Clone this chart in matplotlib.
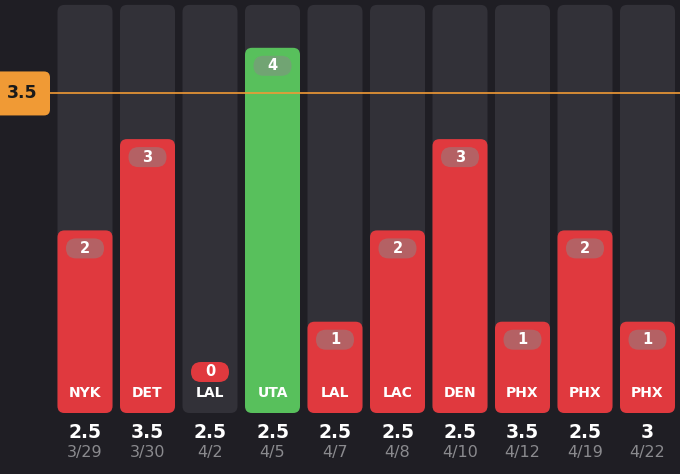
import matplotlib
matplotlib.use("Agg")
import matplotlib.pyplot as plt
from matplotlib.patches import FancyBboxPatch

# data
teams = ['NYK', 'DET', 'LAL', 'UTA', 'LAL', 'LAC', 'DEN', 'PHX', 'PHX', 'PHX']
values = [2, 3, 0, 4, 1, 2, 3, 1, 2, 1]
lines = ['2.5', '3.5', '2.5', '2.5', '2.5', '2.5', '2.5', '3.5', '2.5', '3']
dates = ['3/29', '3/30', '4/2', '4/5', '4/7', '4/8', '4/10', '4/12', '4/19', '4/22']
ref_line = 3.5
track_max = 4.47

BG = '#1f1e24'
TRACK = '#323138'
RED = '#e0393e'
GREEN = '#58c05c'
ORANGE = '#f09a35'

# pixel scale: 62.5 px per bar slot, 91.3 px per unit
XPX, YPX = 62.5, 91.3
asp = XPX / YPX

fig = plt.figure(figsize=(6.8, 4.74), dpi=100)
fig.patch.set_facecolor(BG)
ax = fig.add_axes([0, 0, 1, 1])
ax.set_facecolor(BG)
ax.set_xlim(-85 / XPX, (680 - 85) / XPX)
ax.set_ylim((413 - 474) / YPX, 413 / YPX)
ax.axis('off')

w = 55 / XPX
r = 7 / XPX


def rbox(x0, y0, wd, ht, color, rad, z, alpha=1.0):
    p = FancyBboxPatch((x0, y0), wd, ht,
                       boxstyle='round,pad=0,rounding_size=%f' % rad,
                       mutation_aspect=asp, fc=color, ec='none',
                       alpha=alpha, zorder=z)
    ax.add_patch(p)


pw = 38 / XPX
ph = 20 / YPX
for i, v in enumerate(values):
    rbox(i - w / 2, 0, w, track_max, TRACK, r, 1)
    if v > 0:
        c = GREEN if v > ref_line else RED
        rbox(i - w / 2, 0, w, v, c, r, 2)
        py = v - 18 / YPX
        rbox(i - pw / 2, py - ph / 2, pw, ph, '#8a8a8a', 10 / XPX, 3, alpha=0.5)
    else:
        py = 41 / YPX
        rbox(i - pw / 2, py - ph / 2, pw, ph, RED, 10 / XPX, 3)
    ax.text(i, py, str(v), color='white', fontsize=10.5, fontweight='bold',
            ha='center', va='center', zorder=4)
    ax.text(i, 20 / YPX, teams[i], color='white', fontsize=10, fontweight='bold',
            ha='center', va='center', zorder=4)
    ax.text(i, -19 / YPX, lines[i], color='white', fontsize=13.5, fontweight='bold',
            ha='center', va='center', zorder=4)
    ax.text(i, -40 / YPX, dates[i], color='#8a8a8e', fontsize=11.5,
            ha='center', va='center', zorder=4)

# reference line and its tag
ax.axhline(ref_line, color=ORANGE, lw=1.2, zorder=5)
x_left = ax.get_xlim()[0]
rbox(x_left - 0.1, ref_line - 22 / YPX, 50 / XPX + 0.1, 44 / YPX, ORANGE, 6 / XPX, 6)
ax.text(x_left + 22 / XPX, ref_line, '3.5', color='#1a1a1a', fontsize=12.5,
        fontweight='bold', ha='center', va='center', zorder=7)

fig.savefig('out.png', dpi=100, facecolor=BG)
